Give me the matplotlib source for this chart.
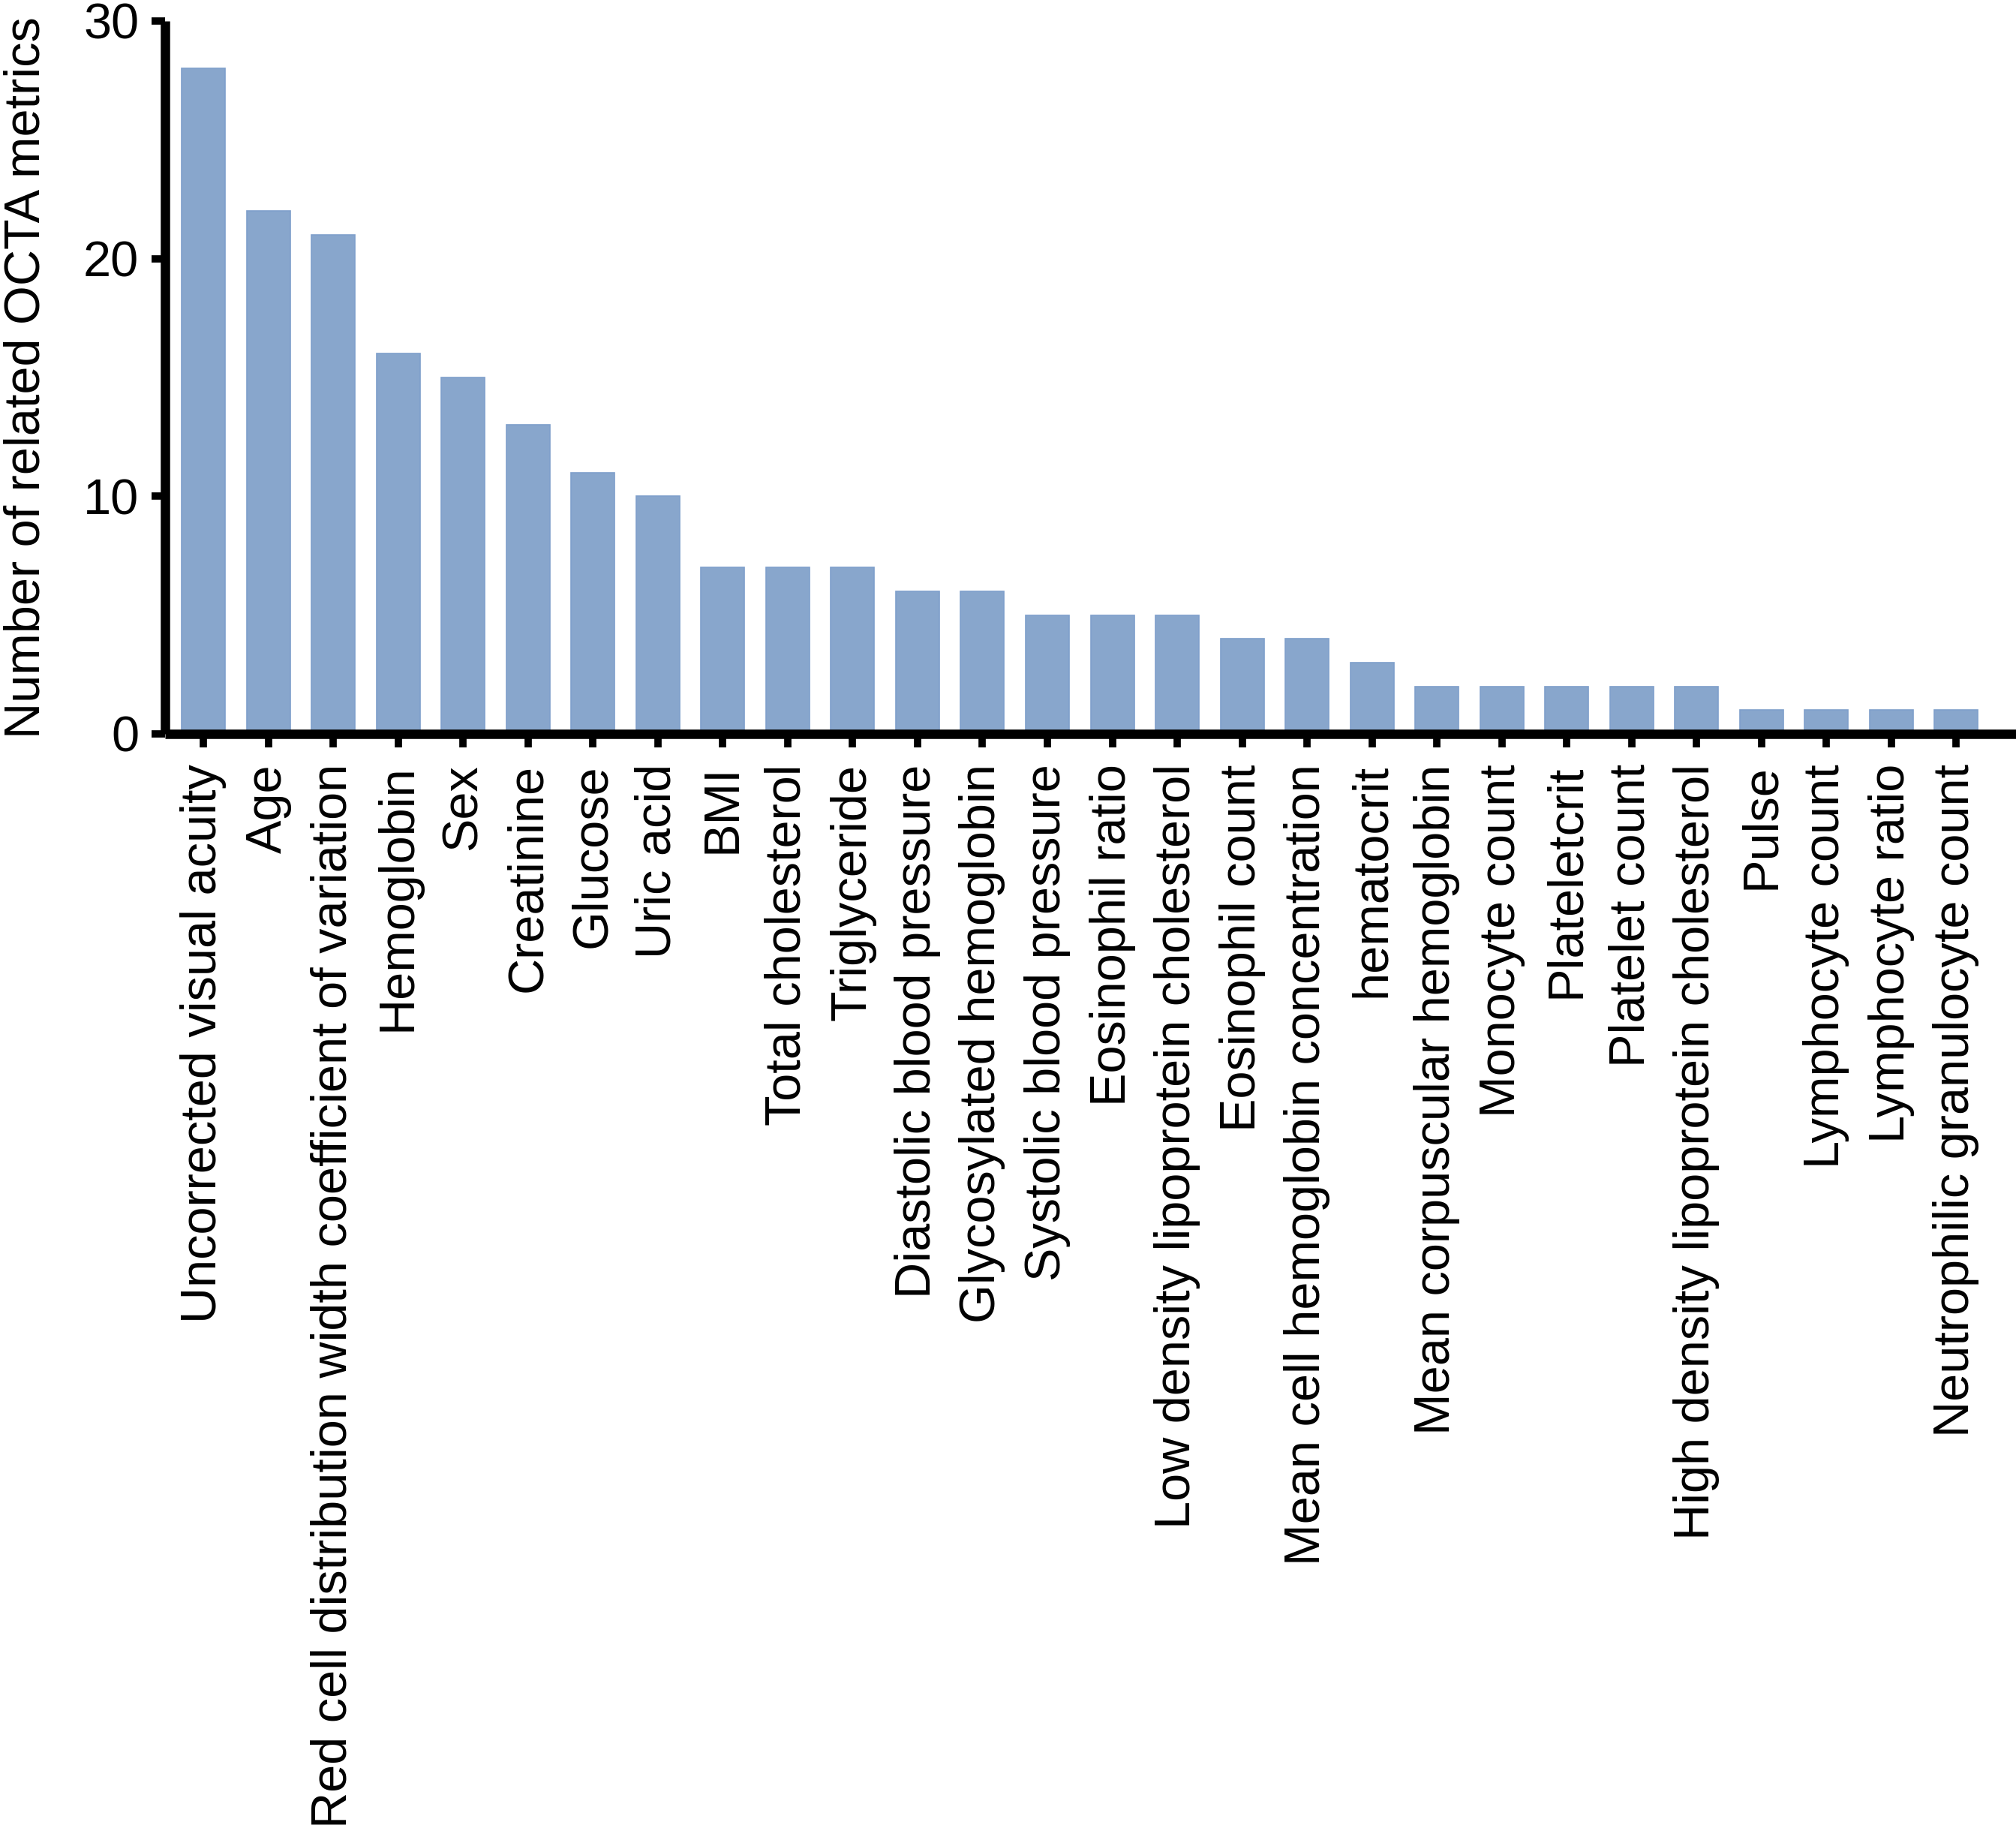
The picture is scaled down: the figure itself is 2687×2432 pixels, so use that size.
import matplotlib
matplotlib.use("Agg")
import matplotlib.pyplot as plt

plt.rcParams['font.family'] = ['Liberation Sans', 'DejaVu Sans']

# variables ranked by number of related OCTA metrics
categories = [
    "Uncorrected visual acuity", "Age",
    "Red cell distribution width coefficient of variation", "Hemoglobin",
    "Sex", "Creatinine", "Glucose", "Uric acid", "BMI", "Total cholesterol",
    "Triglyceride", "Diastolic blood pressure", "Glycosylated hemoglobin",
    "Systolic blood pressure", "Eosinophil ratio",
    "Low density lipoprotein cholesterol", "Eosinophil count",
    "Mean cell hemoglobin concentration", "hematocrit",
    "Mean corpuscular hemoglobin", "Monocyte count", "Plateletcrit",
    "Platelet count", "High density lipoprotein cholesterol", "Pulse",
    "Lymphocyte count", "Lymphocyte ratio", "Neutrophilic granulocyte count",
]
counts = [28, 22, 21, 16, 15, 13, 11, 10, 7, 7, 7, 6, 6, 5, 5, 5, 4, 4, 3,
          2, 2, 2, 2, 2, 1, 1, 1, 1]
yticks = [0, 10, 20, 30]

fig = plt.figure(figsize=(13.435, 12.16), dpi=200)
ax = fig.add_axes([0.0819, 0.5979, 0.9181, 0.3906])

x = range(len(categories))
ax.bar(x, counts, width=0.67, color="#88a6cc", edgecolor="#7f9fcb", linewidth=0.6)

ax.set_xlim(-0.59, len(categories) - 1 + 0.92)
ax.set_ylim(0, 30)
ax.set_yticks(yticks)
ax.set_xticks(list(x))
ax.set_xticklabels(categories, rotation=90, ha="center", va="top")

for side in ["top", "right"]:
    ax.spines[side].set_visible(False)
for side in ["left", "bottom"]:
    ax.spines[side].set_linewidth(4.5)
    ax.spines[side].set_capstyle("butt")

ax.tick_params(axis="both", direction="out", length=6.5, width=3.5,
               labelsize=24, color="black")
ax.tick_params(axis="x", pad=8)
ax.tick_params(axis="y", pad=6)

ax.set_ylabel("Number of related OCTA metrics", fontsize=24, labelpad=16)

fig.savefig("out.png", dpi=200)
